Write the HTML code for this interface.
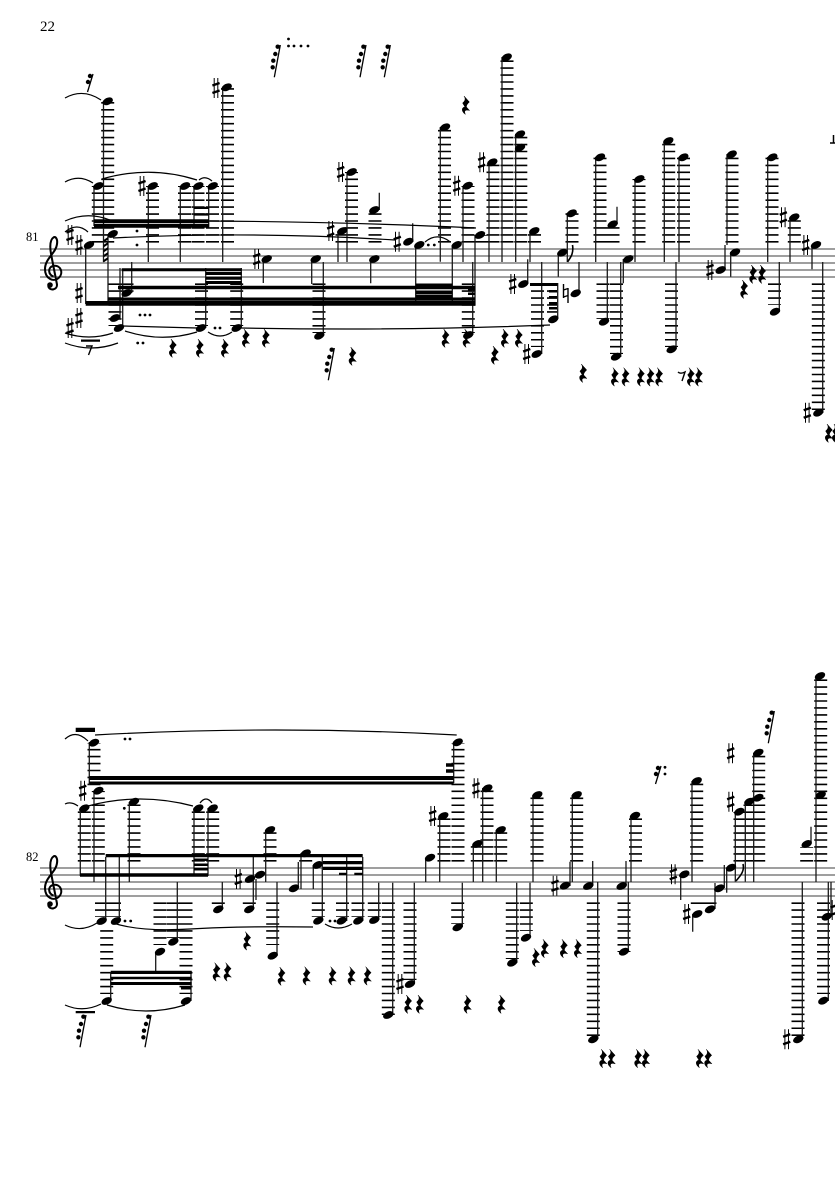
<!DOCTYPE html>
<html><head><meta charset="utf-8"><style>
html,body{margin:0;padding:0;background:#fff}
svg{display:block}
text{font-family:"Liberation Serif",serif;fill:#000}
.L{fill:none;stroke:#000;stroke-dasharray:1.6 5.35}
.S{fill:none;stroke:#1a1a1a;stroke-width:1.3}
.T{fill:none;stroke:#000;stroke-width:1.2}
</style></head><body>
<svg xmlns="http://www.w3.org/2000/svg" width="835" height="1181" viewBox="0 0 835 1181">
<defs>
<ellipse id="n" rx="5.5" ry="3.5" transform="rotate(-25)"/>
<g id="s"><path d="M-1.8-10V10M1.8-10V10" stroke="#000" stroke-width="1" fill="none"/><path d="M-3.6-2.5 3.6-5M-3.6 5 3.6 2.5" stroke="#000" stroke-width="2.4" fill="none"/></g>
<path id="r" d="M-2-9 3.4-3C1.4-1 .4 0 .4 2L3.6 5.5C0 4.4-2.6 5.4-.6 9.4-5 6.4-4.4 2-1 2L-3.4-2C-1-4 0-6-2-9Z" stroke="#000" stroke-width=".5"/>
<g id="f"><path d="M4.3-15-1.7 17.3" stroke="#000" stroke-width="1.3"/><circle cx="1.7" cy="-13.3" r="2.2"/><circle cx="-.7" cy="-6" r="2.2"/><circle cx="-2.7" cy=".7" r="2.2"/><circle cx="-3.3" cy="7.3" r="2.2"/></g>
<g id="e"><path d="M3-9-2.5 9" stroke="#000" stroke-width="1.3"/><circle cx="0" cy="-7" r="2.2"/><circle cx="-2" cy="-1" r="2.2"/></g>
<path id="c" transform="scale(1.08,1.06)" d="M8 25C3 24 2 16 8 15 15 14 17 22 13 26 8 31 0 27 0 18 0 8 10 3 11-5 12-10 10-13 8-12 5-10 4-4 6 6L11 32C12 38 4 39 3 34" fill="none" stroke="#000" stroke-width="1.9"/>
</defs>
<rect width="835" height="1181" fill="#fff"/>
<text x="40" y="31" font-size="15">22</text>
<text x="26" y="241" font-size="12.5">81</text>
<text x="26" y="861" font-size="12.5">82</text>

<path d="M40 249H835M40 256H835M40 263H835M40 270H835M40 277H835M40 868H835M40 875H835M40 882H835M40 889H835M40 896H835" stroke="#666" stroke-width="1.3" fill="none"/>
<use href="#c" x="45" y="250"/><circle cx="50" cy="285" r="2.8"/>
<use href="#c" x="45" y="869"/><circle cx="50" cy="904" r="2.8"/>

<!-- ledger lines -->
<g class="L">
<path stroke-width="13" d="M107.7 242.65V102M98.3 242.65V186M152.5 242.65V186M184.5 242.65V186M198 242.65V186M212.5 242.65V186M227.5 242.65V87M351.5 242.65V172M342 242.65V231M375 242.65V210M444.5 242.65V127M468 242.65V186M493 242.65V162M507 242.65V57M520.8 242.65V134M534.5 242.65V231M572 242.65V213M600 242.65V157M613 242.65V224M639 242.65V179M668.7 242.65V141M683.5 242.65V157M732 242.65V154M772 242.65V157M794.3 242.65V217M480 242.65V235"/>
<path stroke-width="13" d="M115 283.35V326M127 283.35V293M201.5 283.35V326M236.7 283.35V326M319 283.35V333M468.3 283.35V333M537.5 283.35V347M603 283.35V319M616.5 283.35V354M671.5 283.35V347M774.5 283.35V305M818.3 283.35V410"/>
<path stroke-width="10" d="M552 283.35V315"/>
<path stroke-width="13" d="M94 785.2V743M98.3 861.65V791M84.3 861.65V808M134 861.65V802M198.3 861.65V808M212.7 861.65V808M270 861.65V830M305.7 861.65V854M444 861.65V816M458 861.65V743M487 861.65V788M477.3 861.65V844M500.7 861.65V830M537 861.65V795M576.7 861.65V795M635.5 861.65V816M696.7 861.65V781M740 861.65V812M750 861.65V802M758.7 861.65V753M806.7 861.65V847M820.7 861.65V676"/>
<path stroke-width="26" d="M108 902.35V917"/>
<path stroke-width="13" d="M106.7 930.15V994M160 902.35V945M173.3 902.35V938M186 902.35V994M218.3 902.35V905M249.3 902.35V905M272.7 902.35V945M318.3 902.35V917M342.5 902.35V917M358 902.35V917M374.3 902.35V917M388.3 902.35V1015M410 902.35V980M457.7 902.35V924M512.3 902.35V959M526.3 902.35V931M593.3 902.35V1036M624 902.35V952M697.3 902.35V905M710 902.35V905M798 902.35V1036M823.5 902.35V994"/>
</g>

<!-- stems -->
<path class="S" d="M103.5 101V262M94 186V226M148.3 186V262M180.3 186V262M194 186V227M208.7 186V227M222.7 87V262M108 234V301M85.7 245V304M131.7 262V293M120 268V318M122.7 269V328M205.7 268V328M241.3 268V328M263.3 259V283M347 172V262M338 231V262M379.3 210V192.7M311.7 259V284M323.3 262V336M370.7 259V283.3M412.7 242V223.3M415.7 245V301.7M452.3 245V303M440.3 127V261.7M463 186V262M475 235V305.7M489 162V262M502 57V262M515.7 134V262M530 231V262M527.7 284V259.3M541.7 354V262M557.7 283V318M472.7 335V262M567.3 213V262M558.3 253V276.7M579 293V262M595.7 157V262M617 224V206.7M607.3 322V262M620.7 357V262M623.3 259V283.3M635 179V262M664.3 141V262M679 157V262M676 349V262M725 270V245M730.7 252V276.7M727 154V245M767.7 157V262M779.3 312V262M790 217V262M812 245V269.3M822.7 413V262"/>
<path class="S" d="M89.3 742V785M94 791V882M80.3 808V876M129.3 802V882M194 808V876M208 808V876M105.7 857V921M119.3 857V921M110.7 1001V972M191 1001V971M155.7 952V971M177.3 942V882M222.3 909V882M253.3 909V857M256 879V900M265.7 830V882M277 956V882M298.3 888V862M301 853V889M313.3 865V889M322.3 857V921M346.7 921V857M362.7 921V857M378.7 920V882.7M392.7 1015V882.7M414.3 984V882.7M425.7 858V882M439.7 816V882M453.7 742V783M482.7 788V882M473.3 844V882M496.3 830V882M533 795V882M462.3 927V882.7M516.7 963V882.7M530 938V882.7M570 886V861.7M572.3 795V882M592.7 886V861M597.7 1039V882M626 886V861M631 816V882M628.3 952V882M680.7 874V900M692 781V882M692.7 914V931.7M715 909V883M724.3 888V865M726.7 868V892.7M735.3 812V881.7M745.3 802V881.7M753.7 753V882M811 844V826.7M816 676V882M802.3 1039V882M831 917V882M828.3 1001V882"/>
<path d="M567.5 262C570 258 574 254 572.5 245" fill="none" stroke="#000" stroke-width="1.6"/>
<path d="M736 881C739 877 745 872 743 864" fill="none" stroke="#000" stroke-width="1.6"/>

<!-- beams -->
<path d="M94 219.3H209V223.3H94ZM94 224H209V227.7H94ZM194 206.7H208.7V209H194ZM194 213.3H208.7V215.6H194ZM121.7 268.3H241.7V271.3H121.7ZM205.7 272H241.7V275H205.7ZM205.7 276.7H241.7V279.7H205.7ZM205.7 281H241.7V284H205.7ZM118 285.7H475V289.2H118ZM108 297.5H475V300.7H108ZM85.7 301H475V305.7H85.7ZM415.7 283.5H452.3V286.5H415.7ZM415.7 290.5H452.3V294H415.7ZM415.7 294.5H452.3V298H415.7ZM468 288H475V290.5H468ZM468 292.5H475V295H468ZM530 283H557.7V286H530ZM549 290H557V292.5H549ZM549 296H557V298.5H549ZM549 302H557V304.5H549ZM549 307H557V309.5H549ZM103.5 240 108 237V239.5L103.5 242.5ZM103.5 245 108 242V244.5L103.5 247.5ZM103.5 250 108 247V249.5L103.5 252.5ZM103.5 255 108 252V254.5L103.5 257.5ZM103.5 260 108 257V259.5L103.5 262.5Z"/>
<path d="M89.3 776H453.7V780H89.3ZM89.3 781.5H453.7V784.5H89.3ZM80 873.3H208V876.7H80ZM194 858.5H208V861H194ZM194 863.5H208V866H194ZM194 868H208V870.5H194ZM105.7 854H362.7V857.3H105.7ZM323 861H362.7V864.3H323ZM323 866.7H362.7V870H323ZM339 872.7H346.7V875H339ZM354.3 872.7H362.7V875H354.3ZM110.7 970.7H191.7V974H110.7ZM110.7 976.7H191.7V979.3H110.7ZM110.7 982H191.7V985H110.7ZM181 987H191V989.5H181ZM446 763.3H453.5V766.7H446ZM446 769.3H453.5V772.7H446ZM75.7 727.7H95V732H75.7ZM81 339.5H100V341.7H81ZM75.7 1011H95V1013.3H75.7Z"/>

<!-- slurs and ties -->
<g class="T">
<path d="M65 98Q83 88 101 100M65 182Q79 174 93 183M102 179Q150 165 197 180M199 180Q205 175 212 181M65 221Q87 211 110 220M65 232Q77 222 88 232M210 221Q350 222 476 228M113 238Q250 231 395 240M425 242Q437 232 450 241.7M123 326Q160 327 197 328M125 331Q161 343 197 332M208 332Q220 340 232 332M241 328Q400 331 550 325M65 333Q89 341 113 333M65 343Q91 353 118 343"/>
<path d="M65 804Q71 801 78 806M88 806Q140 792 193 806M200 803Q206 795 212 803M65 739Q76 729 88 741M95 735Q275 725 456.7 735M65 925Q81 933 97 923M113 923Q140 932 190 929T313 927M325 924Q338 932 352 924M107 1005Q146 1017 185 1005M65 1005Q83 1013 101 1004"/>
</g>

<!-- noteheads -->
<g>
<use href="#n" x="107.7" y="101.3"/><use href="#n" x="98.3" y="186"/><use href="#n" x="152.7" y="186"/><use href="#n" x="185" y="186"/><use href="#n" x="198.3" y="186"/><use href="#n" x="212.7" y="186"/><use href="#n" x="226.7" y="87.3"/><use href="#n" x="112.7" y="234"/><use href="#n" x="89" y="245"/><use href="#n" x="126.7" y="293"/><use href="#n" x="115" y="318"/><use href="#n" x="119" y="328"/><use href="#n" x="201" y="328"/><use href="#n" x="236.7" y="328"/><use href="#n" x="266.7" y="259"/><use href="#n" x="351.7" y="172"/><use href="#n" x="342.3" y="231"/><use href="#n" x="374.3" y="210"/><use href="#n" x="315.7" y="259"/><use href="#n" x="319.3" y="335.7"/><use href="#n" x="374.3" y="259"/><use href="#n" x="408.3" y="241.7"/><use href="#n" x="419.3" y="245"/><use href="#n" x="456.7" y="245"/><use href="#n" x="445" y="127.3"/><use href="#n" x="467.7" y="185.7"/><use href="#n" x="480" y="235"/><use href="#n" x="492.3" y="162.3"/><use href="#n" x="506.7" y="57.3"/><use href="#n" x="520" y="134.3"/><use href="#n" x="520" y="147.7"/><use href="#n" x="534.3" y="231"/><use href="#n" x="523.3" y="284"/><use href="#n" x="536.7" y="354"/><use href="#n" x="553.3" y="319.3"/><use href="#n" x="468.3" y="335"/><use href="#n" x="571.7" y="213.3"/><use href="#n" x="562.3" y="252.7"/><use href="#n" x="575.7" y="293.3"/><use href="#n" x="600" y="157.3"/><use href="#n" x="612.7" y="224.3"/><use href="#n" x="604" y="321.7"/><use href="#n" x="616" y="356.7"/><use href="#n" x="628.3" y="259"/><use href="#n" x="639.3" y="179"/><use href="#n" x="668.3" y="141"/><use href="#n" x="683.3" y="157.3"/><use href="#n" x="671.7" y="349.3"/><use href="#n" x="720.7" y="270"/><use href="#n" x="735" y="252.3"/><use href="#n" x="731.7" y="154.3"/><use href="#n" x="772.3" y="157.3"/><use href="#n" x="775" y="311.7"/><use href="#n" x="794.3" y="217.3"/><use href="#n" x="816" y="245"/><use href="#n" x="818.3" y="412.7"/>
<use href="#n" x="94" y="742.7"/><use href="#n" x="98.3" y="790.7"/><use href="#n" x="84.3" y="808.3"/><use href="#n" x="134" y="801.7"/><use href="#n" x="198.3" y="808.3"/><use href="#n" x="212.7" y="808.3"/><use href="#n" x="101.7" y="921"/><use href="#n" x="116" y="921"/><use href="#n" x="106.7" y="1001"/><use href="#n" x="186" y="1001"/><use href="#n" x="160" y="951.7"/><use href="#n" x="173.3" y="941.7"/><use href="#n" x="218.3" y="909.3"/><use href="#n" x="249.3" y="909.3"/><use href="#n" x="250" y="879"/><use href="#n" x="260" y="874.7"/><use href="#n" x="270" y="830"/><use href="#n" x="272.7" y="955.7"/><use href="#n" x="294" y="888.3"/><use href="#n" x="305.7" y="853.3"/><use href="#n" x="317.7" y="865"/><use href="#n" x="318.3" y="920.7"/><use href="#n" x="341.7" y="920.7"/><use href="#n" x="358.3" y="920.7"/><use href="#n" x="374.3" y="920"/><use href="#n" x="388.3" y="1015"/><use href="#n" x="410" y="984"/><use href="#n" x="430" y="857.7"/><use href="#n" x="443.3" y="816"/><use href="#n" x="457.7" y="742.3"/><use href="#n" x="487.3" y="788.3"/><use href="#n" x="477.3" y="844"/><use href="#n" x="500.7" y="830"/><use href="#n" x="537.3" y="795"/><use href="#n" x="457.7" y="927.3"/><use href="#n" x="512.3" y="962.7"/><use href="#n" x="526" y="937.7"/><use href="#n" x="565" y="885.7"/><use href="#n" x="576.7" y="795"/><use href="#n" x="588.3" y="886"/><use href="#n" x="593.3" y="1039.3"/><use href="#n" x="621.7" y="886"/><use href="#n" x="635" y="815.7"/><use href="#n" x="624" y="951.7"/><use href="#n" x="684.3" y="874.3"/><use href="#n" x="696.7" y="781"/><use href="#n" x="697.3" y="914"/><use href="#n" x="710" y="909.3"/><use href="#n" x="719.3" y="888.3"/><use href="#n" x="731" y="867.7"/><use href="#n" x="739.3" y="811.7"/><use href="#n" x="749.3" y="801.7"/><use href="#n" x="758.3" y="797.7"/><use href="#n" x="758.3" y="752.7"/><use href="#n" x="806.7" y="844"/><use href="#n" x="820" y="676"/><use href="#n" x="820.7" y="795"/><use href="#n" x="798.3" y="1039.3"/><use href="#n" x="826.7" y="916.7"/><use href="#n" x="823.3" y="1000.7"/>
</g>

<!-- sharps -->
<g>
<use href="#s" x="79" y="245"/><use href="#s" x="70" y="235"/><use href="#s" x="79" y="293"/><use href="#s" x="79" y="318"/><use href="#s" x="70" y="328"/><use href="#s" x="142" y="186"/><use href="#s" x="216" y="88"/><use href="#s" x="256.7" y="259"/><use href="#s" x="340.7" y="172"/><use href="#s" x="330.7" y="231"/><use href="#s" x="397.3" y="241.7"/><use href="#s" x="456.7" y="185.7"/><use href="#s" x="481.7" y="162.3"/><use href="#s" x="512.7" y="284"/><use href="#s" x="526.7" y="354"/><use href="#s" x="710" y="270"/><use href="#s" x="783.3" y="217.3"/><use href="#s" x="805.7" y="245"/><use href="#s" x="807.3" y="412.7"/>
<use href="#s" x="82.7" y="790.7"/><use href="#s" x="238.3" y="879"/><use href="#s" x="400" y="984"/><use href="#s" x="432.7" y="816"/><use href="#s" x="476" y="788.3"/><use href="#s" x="555" y="885.7"/><use href="#s" x="673.3" y="874.3"/><use href="#s" x="686.7" y="914"/><use href="#s" x="730.7" y="801.7"/><use href="#s" x="730.7" y="753.3"/><use href="#s" x="786.7" y="1039.3"/><use href="#s" x="834" y="910"/>
</g>
<!-- natural -->
<path d="M563.5 284V298M568 288V303M563.5 290 568 288.5M563.5 297 568 295.5" stroke="#000" stroke-width="1.4" fill="none"/>

<!-- quarter rests -->
<g>
<use href="#r" x="173" y="348"/><use href="#r" x="200" y="348"/><use href="#r" x="225" y="348"/><use href="#r" x="246" y="338"/><use href="#r" x="266" y="338"/><use href="#r" x="352.7" y="356"/><use href="#r" x="466" y="105"/><use href="#r" x="445.7" y="338"/><use href="#r" x="466.7" y="338"/><use href="#r" x="505" y="338"/><use href="#r" x="519" y="338"/><use href="#r" x="495" y="355"/><use href="#r" x="583.3" y="373"/><use href="#r" x="615" y="376.7"/><use href="#r" x="625.7" y="376.7"/><use href="#r" x="641" y="376.7"/><use href="#r" x="650.7" y="376.7"/><use href="#r" x="659.3" y="376.7"/><use href="#r" x="691" y="376.7"/><use href="#r" x="699" y="376.7"/><use href="#r" x="744.3" y="289"/><use href="#r" x="753.3" y="274"/><use href="#r" x="762.3" y="274"/><use href="#r" x="829" y="433"/><use href="#r" x="836" y="433"/>
<use href="#r" x="216.7" y="971.7"/><use href="#r" x="227.7" y="971.7"/><use href="#r" x="247.3" y="940.7"/><use href="#r" x="281.7" y="976"/><use href="#r" x="306.7" y="975.7"/><use href="#r" x="332.7" y="975.7"/><use href="#r" x="351.7" y="975.7"/><use href="#r" x="367.7" y="975.7"/><use href="#r" x="408.3" y="1004"/><use href="#r" x="420" y="1004"/><use href="#r" x="467.7" y="1004"/><use href="#r" x="501.7" y="1004"/><use href="#r" x="536" y="957.3"/><use href="#r" x="545" y="948.3"/><use href="#r" x="564" y="948.3"/><use href="#r" x="578" y="948.3"/><use href="#r" x="603.3" y="1058.3"/><use href="#r" x="611.7" y="1058.3"/><use href="#r" x="638.3" y="1058.3"/><use href="#r" x="646" y="1058.3"/><use href="#r" x="700" y="1058.3"/><use href="#r" x="708.3" y="1058.3"/>
</g>

<!-- flagged rests -->
<g>
<use href="#f" x="276" y="60"/><use href="#f" x="361.7" y="60"/><use href="#f" x="386" y="60"/><use href="#f" x="330" y="363"/><use href="#f" x="81.7" y="1030"/><use href="#f" x="146.7" y="1030"/><use href="#f" x="770" y="726"/>
<use href="#e" x="90" y="83"/><use href="#e" x="658" y="775"/>
</g>
<path d="M86 346H92L88.5 355M678 372C680 374 683 373 685 372L682 381" fill="none" stroke="#000" stroke-width="1.4"/>
<path d="M830 143H835M833.5 135V143" stroke="#000" stroke-width="1.5" fill="none"/>

<!-- dots -->
<g>
<circle cx="137" cy="231" r="1.4"/><circle cx="137" cy="245" r="1.4"/><circle cx="140" cy="315" r="1.4"/><circle cx="145" cy="315" r="1.4"/><circle cx="150" cy="315" r="1.4"/><circle cx="137.7" cy="343" r="1.4"/><circle cx="143" cy="343" r="1.4"/><circle cx="215" cy="328" r="1.4"/><circle cx="220" cy="328" r="1.4"/><circle cx="428.3" cy="245" r="1.4"/><circle cx="434.3" cy="245" r="1.4"/><circle cx="288.5" cy="39" r="1.4"/><circle cx="288.5" cy="46" r="1.4"/><circle cx="294" cy="46" r="1.4"/><circle cx="301" cy="46" r="1.4"/><circle cx="308" cy="46" r="1.4"/>
<circle cx="125" cy="739" r="1.4"/><circle cx="130" cy="739" r="1.4"/><circle cx="124.3" cy="808.3" r="1.4"/><circle cx="125" cy="921" r="1.4"/><circle cx="130.7" cy="921" r="1.4"/><circle cx="330" cy="921" r="1.4"/><circle cx="335" cy="921" r="1.4"/><circle cx="665" cy="767.3" r="1.4"/><circle cx="665" cy="774" r="1.4"/>
</g>
</svg>
</body></html>
